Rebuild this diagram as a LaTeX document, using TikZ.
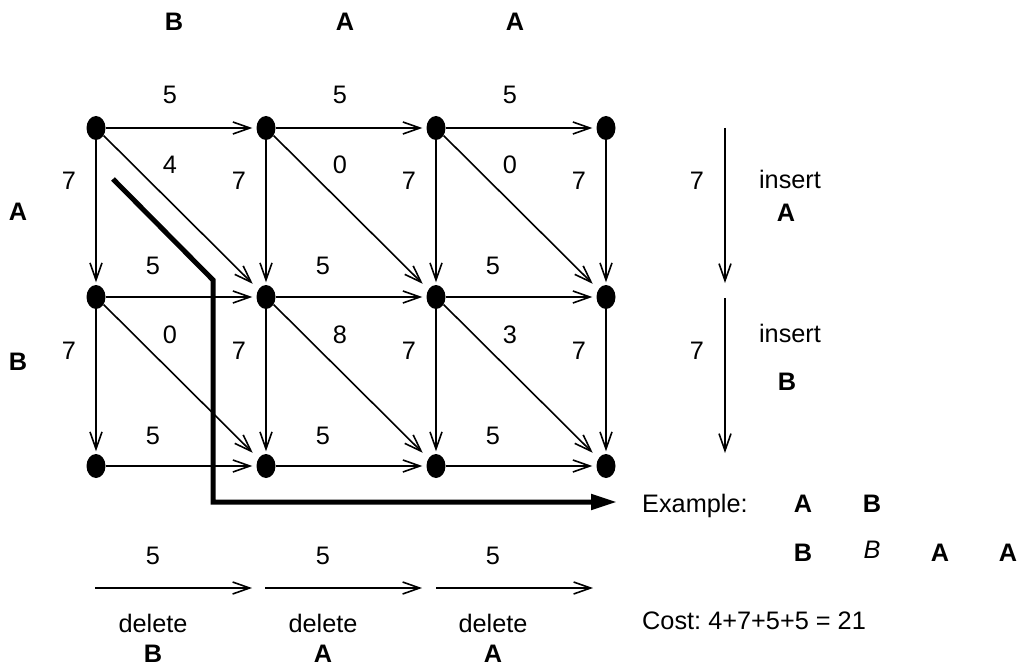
\documentclass[tikz,border=0pt]{standalone}
\usepackage{fontspec}
\setmainfont{Liberation Sans}
\usetikzlibrary{arrows.meta,shapes.geometric}
\frenchspacing

\tikzset{
  dot/.style={ellipse, fill=black, draw=none, minimum width=19pt, minimum height=24pt, inner sep=0pt},
  lbl/.style={anchor=base, inner sep=0pt, font=\fontsize{25.3pt}{30pt}\selectfont},
  blbl/.style={lbl, font=\fontsize{25.3pt}{30pt}\selectfont\bfseries},
  ilbl/.style={lbl, font=\fontsize{25.3pt}{30pt}\selectfont\itshape},
  wlbl/.style={lbl, anchor=base west},
  edgearrow/.style={line width=1.6pt, -{Straight Barb[length=17pt,width=12pt,line width=1.6pt]}, shorten >=4pt},
  diagarrow/.style={edgearrow, shorten >=8pt},
  pathline/.style={line width=5pt, -{Triangle[length=26pt,width=15pt]}}
}

\begin{document}
\begin{tikzpicture}[x=1pt, y=-1pt]
\useasboundingbox (0,0) rectangle (1022,666);

% lattice of states
\foreach \c/\x in {0/96,1/266,2/436,3/606}{
  \foreach \r/\y in {0/128,1/297,2/466}{
    \node[dot] (n\c\r) at (\x,\y) {};
  }
}

% horizontal edges
\foreach \r in {0,1,2}{
  \draw[edgearrow] (n0\r) -- (n1\r);
  \draw[edgearrow] (n1\r) -- (n2\r);
  \draw[edgearrow] (n2\r) -- (n3\r);
}
% vertical edges
\foreach \c in {0,1,2,3}{
  \draw[edgearrow, shorten >=2.5pt] (n\c0) -- (n\c1);
  \draw[edgearrow, shorten >=2.5pt] (n\c1) -- (n\c2);
}
% diagonal edges
\draw[diagarrow] (n00) -- (n11);
\draw[diagarrow] (n10) -- (n21);
\draw[diagarrow] (n20) -- (n31);
\draw[diagarrow] (n01) -- (n12);
\draw[diagarrow] (n11) -- (n22);
\draw[diagarrow] (n21) -- (n32);

% horizontal weights
\node[lbl] (h00) at (170,104) {5};
\node[lbl] (h10) at (340,104) {5};
\node[lbl] (h20) at (510,104) {5};
\node[lbl] (h01) at (153,274) {5};
\node[lbl] (h11) at (323,274) {5};
\node[lbl] (h21) at (493,274) {5};
\node[lbl] (h02) at (153,444) {5};
\node[lbl] (h12) at (323,444) {5};
\node[lbl] (h22) at (493,444) {5};

% diagonal weights
\node[lbl] (d00) at (170,173) {4};
\node[lbl] (d10) at (340,173) {0};
\node[lbl] (d20) at (510,173) {0};
\node[lbl] (d01) at (170,343) {0};
\node[lbl] (d11) at (340,343) {8};
\node[lbl] (d21) at (510,343) {3};

% vertical weights
\foreach \c/\x in {0/69,1/239,2/409,3/579}{
  \node[lbl] (v\c0) at (\x,189) {7};
  \node[lbl] (v\c1) at (\x,359) {7};
}

% sequence letters
\node[blbl] (tB)  at (174,31) {B};
\node[blbl] (tA1) at (345,31) {A};
\node[blbl] (tA2) at (515,31) {A};
\node[blbl] (lA)  at (18,220) {A};
\node[blbl] (lB)  at (18,370) {B};

% highlighted path
\coordinate (p0) at (113,179);
\coordinate (p1) at (213,280);
\coordinate (p2) at (213,502);
\coordinate (p3) at (617,502);
\draw[pathline] (p0) -- (p1) -- (p2) -- (p3);

% insert legend
\coordinate (i0) at (725,128);
\coordinate (i1) at (725,283);
\coordinate (i2) at (725,298);
\coordinate (i3) at (725,453);
\draw[edgearrow, shorten >=0pt] (i0) -- (i1);
\draw[edgearrow, shorten >=0pt] (i2) -- (i3);
\node[lbl] (i7a) at (697,189) {7};
\node[lbl] (i7b) at (697,359) {7};
\node[lbl] (ins1) at (790,188) {insert};
\node[blbl] (insA) at (786,221) {A};
\node[lbl] (ins2) at (790,342) {insert};
\node[blbl] (insB) at (787,390) {B};

% delete legend
\coordinate (e0) at (95,588);
\coordinate (e1) at (252,588);
\coordinate (e2) at (265,588);
\coordinate (e3) at (422,588);
\coordinate (e4) at (436,588);
\coordinate (e5) at (593,588);
\draw[edgearrow, shorten >=0pt] (e0) -- (e1);
\draw[edgearrow, shorten >=0pt] (e2) -- (e3);
\draw[edgearrow, shorten >=0pt] (e4) -- (e5);
\foreach \x/\ch [count=\k] in {153/B,323/A,493/A}{
  \node[lbl] (dw\k) at (\x,564) {5};
  \node[lbl] (dl\k) at (\x,632) {delete};
  \node[blbl] (dc\k) at (\x,662) {\ch};
}

% worked example
\node[wlbl] (ex) at (642,512) {Example:};
\node[blbl] (exA) at (803,512) {A};
\node[blbl] (exB) at (872,512) {B};
\node[blbl] (ey1) at (803,561) {B};
\node[ilbl] (ey2) at (872,558) {B};
\node[blbl] (ey3) at (940,561) {A};
\node[blbl] (ey4) at (1008,561) {A};
\node[wlbl] (cost) at (642,629) {Cost: 4+7+5+5 = 21};
\end{tikzpicture}
\end{document}
